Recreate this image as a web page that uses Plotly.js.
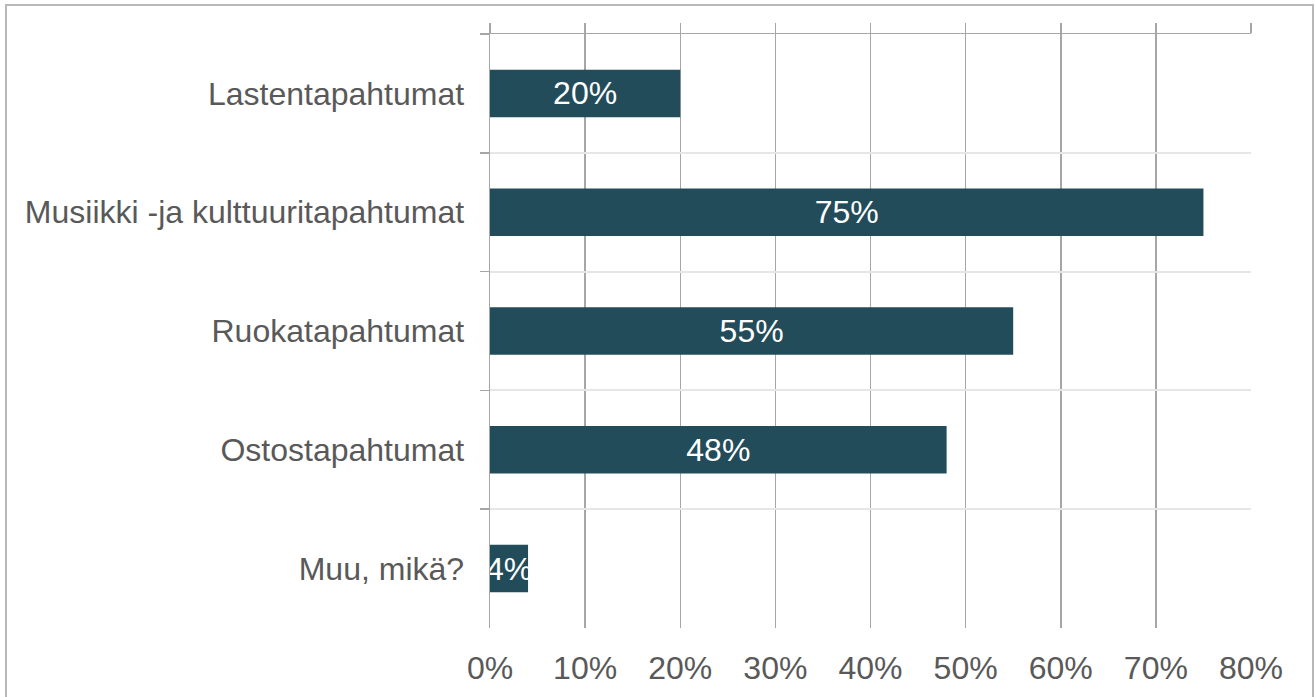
<!DOCTYPE html>
<html>
<head>
<meta charset="utf-8">
<script src="https://cdn.plot.ly/plotly-3.0.1.min.js"></script>
<style>
html,body{margin:0;padding:0;background:#fff;}
#wrap{position:relative;width:1315px;height:697px;overflow:hidden;}
#frame{position:absolute;left:5px;top:4px;width:1309px;height:720px;border:2px solid #b8b8b8;box-sizing:border-box;pointer-events:none;z-index:2;}
#chart{position:absolute;left:0;top:0;width:1315px;height:697px;}
</style>
</head>
<body>
<div id="wrap"><div id="chart"></div><div id="frame"></div></div>
<script>
const categories = ["Lastentapahtumat", "Musiikki -ja kulttuuritapahtumat", "Ruokatapahtumat", "Ostostapahtumat", "Muu, mikä?"];
const values = [0.20, 0.75, 0.55, 0.48, 0.04];
const labels = ["20%", "75%", "55%", "48%", "4%"];
const tickVals = [0, 0.1, 0.2, 0.3, 0.4, 0.5, 0.6, 0.7, 0.8];
const tickText = ["0%", "10%", "20%", "30%", "40%", "50%", "60%", "70%", "80%"];

const font = "Liberation Sans, Arial, sans-serif";

const trace = {
  type: "bar",
  orientation: "h",
  y: categories,
  x: values,
  text: labels,
  textposition: "inside",
  insidetextanchor: "middle",
  textangle: 0,
  constraintext: "none",
  textfont: {family: font, size: 32, color: "#ffffff"},
  marker: {color: "#234C5A", line: {width: 0}},
  hoverinfo: "none",
  cliponaxis: false
};

// invisible helper so the top axis (with its tick marks) is drawn
const topAxisHelper = {
  type: "scatter",
  mode: "markers",
  x: values,
  y: categories,
  xaxis: "x2",
  yaxis: "y",
  marker: {opacity: 0, size: 1},
  hoverinfo: "none",
  showlegend: false
};

const layout = {
  width: 1315, height: 697,
  margin: {l: 490, r: 64, t: 34, b: 69},
  paper_bgcolor: "#ffffff",
  plot_bgcolor: "#ffffff",
  showlegend: false,
  bargap: 0.6,
  font: {family: font, color: "#595959", size: 32},
  xaxis: {
    range: [0, 0.8],
    tickvals: tickVals,
    ticktext: tickText,
    showgrid: true,
    gridcolor: "#a6a6a6",
    gridwidth: 1.5,
    zeroline: false,
    showline: false,
    ticks: "outside",
    ticklen: 12,
    tickcolor: "rgba(0,0,0,0)",
    tickfont: {family: font, size: 32, color: "#595959"},
    fixedrange: true
  },
  xaxis2: {
    overlaying: "x",
    side: "top",
    range: [0, 0.8],
    tickvals: tickVals,
    showticklabels: false,
    showgrid: false,
    zeroline: false,
    ticks: "outside",
    ticklen: 10,
    tickwidth: 1.5,
    tickcolor: "#a6a6a6",
    showline: true,
    linecolor: "#a6a6a6",
    linewidth: 1.5,
    fixedrange: true
  },
  yaxis: {
    autorange: "reversed",
    type: "category",
    tickson: "boundaries",
    showgrid: true,
    gridcolor: "#e6e6e6",
    gridwidth: 2,
    zeroline: false,
    showline: true,
    linecolor: "#a6a6a6",
    linewidth: 1.5,
    ticks: "outside",
    ticklen: 9,
    tickwidth: 1.5,
    tickcolor: "#a6a6a6",
    ticklabelstandoff: 18,
    tickfont: {family: font, size: 32, color: "#595959"},
    fixedrange: true
  }
};

Plotly.newPlot("chart", [trace, topAxisHelper], layout, {displayModeBar: false, staticPlot: true});
</script>
</body>
</html>
